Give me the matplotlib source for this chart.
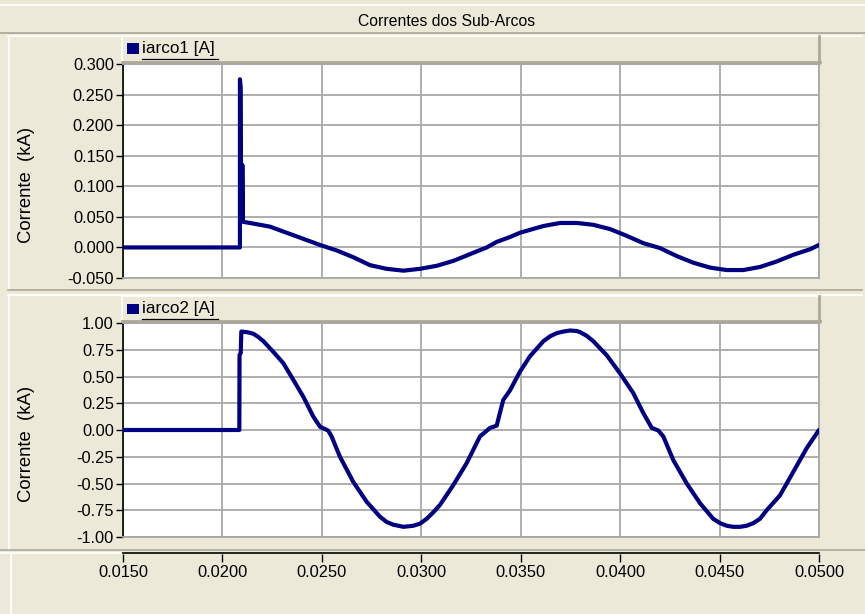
import matplotlib
matplotlib.use("Agg")
import matplotlib.pyplot as plt
from matplotlib.lines import Line2D
from matplotlib.patches import Rectangle
from matplotlib.ticker import FixedLocator, FormatStrFormatter

plt.rcParams['font.family'] = ['Liberation Sans', 'DejaVu Sans']

# ---------------- data ----------------
title = "Correntes dos Sub-Arcos"
ylabel = "Corrente  (kA)"
legend1 = "iarco1 [A]"
legend2 = "iarco2 [A]"

t1 = [0.0150, 0.02088, 0.02088, 0.02092, 0.02094, 0.02099, 0.02100, 0.02103,
      0.02155, 0.02239, 0.02323, 0.02407, 0.02491, 0.02575, 0.02658, 0.02742,
      0.02826, 0.02910, 0.02994, 0.03078, 0.03161, 0.03245, 0.03329, 0.03379,
      0.03446, 0.03496, 0.03614, 0.03698, 0.03782, 0.03865, 0.03949, 0.04033,
      0.04116, 0.04200, 0.04284, 0.04368, 0.04452, 0.04536, 0.04619, 0.04703,
      0.04787, 0.04871, 0.04955, 0.05000]
i1 = [0.0, 0.0, 0.275, 0.26, 0.045, 0.045, 0.135, 0.042,
      0.039, 0.034, 0.024, 0.014, 0.004, -0.005, -0.016, -0.029,
      -0.035, -0.038, -0.035, -0.030, -0.022, -0.011, 0.000, 0.009,
      0.017, 0.024, 0.035, 0.040, 0.040, 0.037, 0.030, 0.019,
      0.007, -0.001, -0.014, -0.025, -0.033, -0.037, -0.037, -0.032,
      -0.023, -0.012, -0.003, 0.004]

t2 = [0.0150, 0.02085, 0.02086, 0.02092, 0.02095, 0.02122, 0.02155, 0.02180,
      0.02206, 0.02256, 0.02306, 0.02356, 0.02407, 0.02457, 0.02491, 0.02532,
      0.02549, 0.02591, 0.02658, 0.02725, 0.02792, 0.02826, 0.02859, 0.02910,
      0.02960, 0.02994, 0.03027, 0.03060, 0.03094, 0.03161, 0.03228, 0.03295,
      0.03346, 0.03379, 0.03412, 0.03446, 0.03496, 0.03547, 0.03614, 0.03647,
      0.03681, 0.03714, 0.03748, 0.03782, 0.03798, 0.03832, 0.03865, 0.03932,
      0.03999, 0.04066, 0.04116, 0.04159, 0.04192, 0.04217, 0.04267, 0.04335,
      0.04402, 0.04468, 0.04502, 0.04536, 0.04569, 0.04603, 0.04636, 0.04670,
      0.04703, 0.04737, 0.04804, 0.04871, 0.04938, 0.05000]
i2 = [0.0, 0.0, 0.70, 0.72, 0.92, 0.915, 0.90, 0.87,
      0.83, 0.73, 0.625, 0.47, 0.31, 0.125, 0.03, -0.006,
      -0.06, -0.25, -0.485, -0.67, -0.81, -0.86, -0.885, -0.905,
      -0.895, -0.875, -0.83, -0.77, -0.70, -0.515, -0.31, -0.06,
      0.02, 0.04, 0.28, 0.37, 0.545, 0.69, 0.83, 0.875,
      0.905, 0.92, 0.93, 0.925, 0.915, 0.88, 0.83, 0.70,
      0.53, 0.345, 0.16, 0.02, -0.005, -0.06, -0.28, -0.50,
      -0.685, -0.83, -0.87, -0.895, -0.905, -0.905, -0.895, -0.87,
      -0.83, -0.75, -0.61, -0.39, -0.17, 0.0]

xticks = [0.0150, 0.0200, 0.0250, 0.0300, 0.0350, 0.0400, 0.0450, 0.0500]
yticks1 = [-0.050, 0.000, 0.050, 0.100, 0.150, 0.200, 0.250, 0.300]
yticks2 = [-1.00, -0.75, -0.50, -0.25, 0.00, 0.25, 0.50, 0.75, 1.00]

# ---------------- style ----------------
W, H = 865, 614
BG = '#ECE9D8'
NAVY = '#000080'
GRID = '#A8A8A8'
FS = 11.8

fig = plt.figure(figsize=(W / 100, H / 100), dpi=100, facecolor=BG)


def rect(x0, y0, x1, y1):
    return [x0 / W, 1 - y1 / H, (x1 - x0) / W, (y1 - y0) / H]


def hline(y, x0, x1, color, lw=1.0):
    fig.add_artist(Line2D([x0 / W, x1 / W], [1 - y / H, 1 - y / H],
                          color=color, lw=lw, transform=fig.transFigure))


def vline(x, y0, y1, color, lw=1.0):
    fig.add_artist(Line2D([x / W, x / W], [1 - y0 / H, 1 - y1 / H],
                          color=color, lw=lw, transform=fig.transFigure))


# title strip
hline(5, 0, W, 'white', 1.2)
hline(33, 0, W, '#ACA899', 1.2)
fig.text(447 / W, 1 - 21 / H, title, ha='center', va='center',
         fontsize=11.3, color='black')

# panel borders
hline(36, 8, 862, 'white', 1.2)
vline(9, 36, 290, 'white', 1.2)
hline(290, 8, 862, '#ACA899', 1.2)
hline(295, 8, 862, 'white', 1.2)
vline(9, 295, 550, 'white', 1.2)
hline(550, 0, W, '#ACA899', 1.2)
hline(553, 0, 120, 'white', 1.2)
vline(11, 553, 614, 'white', 1.2)


def legend_strip(y0, y1, text):
    fig.add_artist(Rectangle((122 / W, 1 - y1 / H), (698) / W, (y1 - y0) / H,
                             transform=fig.transFigure, facecolor=BG, edgecolor='none'))
    hline(y0, 122, 820, 'white', 1.2)
    vline(122, y0, y1, 'white', 1.2)
    hline(y1 - 1, 122, 820, '#ACA899', 2.0)
    vline(819, y0, y1, '#ACA899', 2.0)
    fig.add_artist(Rectangle((127 / W, 1 - 54 / H - (y0 - 36) / H), 12 / W, 10.5 / H,
                             transform=fig.transFigure, facecolor=NAVY, edgecolor='none'))
    fig.text(142 / W, 1 - (y0 + 12.5) / H, text, ha='left', va='center',
             fontsize=12.3, color='black')
    hline(y0 + 22.5, 142, 218, 'black', 0.9)


legend_strip(36, 63, legend1)
legend_strip(296, 322, legend2)


def panel(r, t, v, yticks, fmt, ylim):
    ax = fig.add_axes(r)
    ax.set_facecolor('white')
    ax.plot(t, v, color=NAVY, lw=3.0, solid_joinstyle='round', solid_capstyle='round',
            zorder=3)
    ax.set_xlim(0.015, 0.050)
    ax.set_ylim(*ylim)
    ax.xaxis.set_major_locator(FixedLocator(xticks))
    ax.yaxis.set_major_locator(FixedLocator(yticks))
    ax.yaxis.set_major_formatter(FormatStrFormatter(fmt))
    ax.grid(True, color=GRID, lw=1.3)
    ax.set_axisbelow(True)
    ax.tick_params(axis='x', length=0, labelbottom=False)
    ax.tick_params(axis='y', length=5, width=1, pad=1.5, labelsize=FS, colors='black')
    for s in ['top', 'right', 'bottom']:
        ax.spines[s].set_color(GRID)
        ax.spines[s].set_linewidth(1.3)
    ax.spines['left'].set_color('black')
    ax.spines['left'].set_linewidth(1.2)
    ax.set_ylabel(ylabel, fontsize=13.3)
    ax.yaxis.set_label_coords(-0.126, 0.435)
    return ax


ax1 = panel(rect(123, 64, 819, 278), t1, i1, yticks1, '%.3f', (-0.050, 0.300))
ax2 = panel(rect(123, 323, 819, 537), t2, i2, yticks2, '%.2f', (-1.0, 1.0))

# shared x axis below
axx = fig.add_axes(rect(123, 553, 819, 554))
axx.set_facecolor('none')
axx.set_xlim(0.015, 0.050)
axx.set_ylim(0, 1)
axx.xaxis.set_major_locator(FixedLocator(xticks))
axx.xaxis.set_major_formatter(FormatStrFormatter('%.4f'))
axx.set_yticks([])
for s in ['left', 'right', 'bottom']:
    axx.spines[s].set_visible(False)
axx.spines['top'].set_color('black')
axx.spines['top'].set_linewidth(1.2)
axx.tick_params(axis='x', direction='out', length=6, width=1, pad=2, labelsize=FS,
                top=False, bottom=True)

fig.savefig('out.png', dpi=100, facecolor=BG)
